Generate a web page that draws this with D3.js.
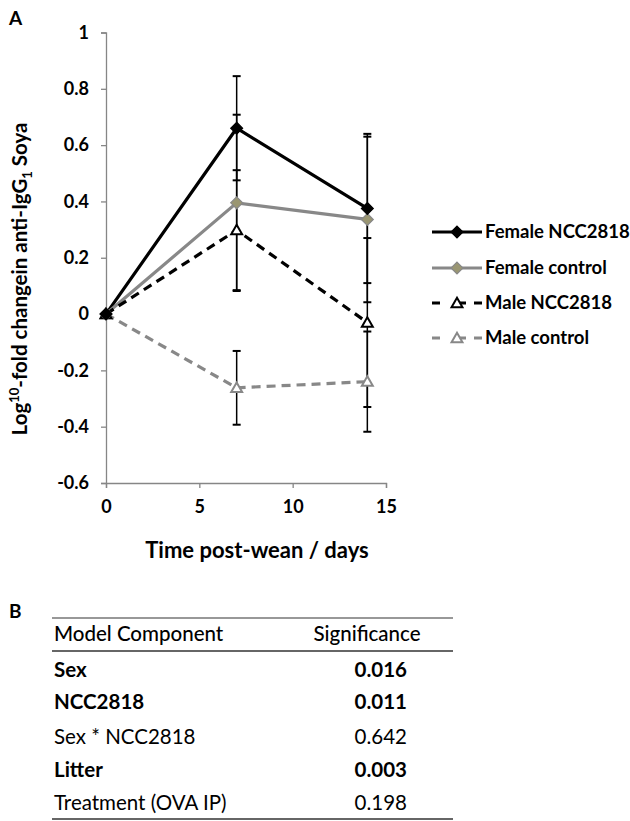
<!DOCTYPE html>
<html>
<head>
<meta charset="utf-8">
<script src="https://cdn.jsdelivr.net/npm/d3@7"></script>
<style>
  body { margin: 0; background: #fff; }
  svg { display: block; font-family: Lato, "Open Sans", sans-serif; }
</style>
</head>
<body>
<svg id="chart" width="630" height="821"></svg>
<script>
// data
const days = [0, 7, 14];
const seriesNames = ["Female NCC2818", "Female control", "Male NCC2818", "Male control"];
const femaleNcc = [0, 0.66, 0.375];
const femaleNccErr = [0, 0.185, 0.265];
const femaleCtrl = [0, 0.395, 0.336];
const femaleCtrlErr = [0, 0.313, 0.294];
const maleNcc = [0, 0.298, -0.03];
const maleNccErr = [0, 0.213, 0.30];
const maleCtrl = [0, -0.262, -0.24];
const maleCtrlErr = [0, 0.131, 0.178];
const yTicks = [-0.6, -0.4, -0.2, 0, 0.2, 0.4, 0.6, 0.8, 1];
const xTicks = [0, 5, 10, 15];

const tableComponents = ["Sex", "NCC2818", "Sex * NCC2818", "Litter", "Treatment (OVA IP)"];
const tableSignificance = ["0.016", "0.011", "0.642", "0.003", "0.198"];
const tableBold = [true, true, false, true, false];

const svg = d3.select("#chart");

// styles per series
const styles = [
  { color: "#000", dash: null, marker: "diamond", fill: "#000" },
  { color: "#888", dash: null, marker: "diamond", fill: "#9a9672" },
  { color: "#000", dash: "9,6", marker: "triangle", fill: "#fff" },
  { color: "#888", dash: "9,6", marker: "triangle", fill: "#fff" }
];
const means = [femaleNcc, femaleCtrl, maleNcc, maleCtrl];
const errs = [femaleNccErr, femaleCtrlErr, maleNccErr, maleCtrlErr];

let x = d3.scaleLinear().domain([0, 15]).range([106, 386]);
let y = d3.scaleLinear().domain([-0.6, 1]).range([483, 32.5]);

// panel labels
svg.append("text").attr("x", 9).attr("y", 25).attr("font-weight", "bold").attr("font-size", 19).text("A");
svg.append("text").attr("x", 9).attr("y", 618).attr("font-weight", "bold").attr("font-size", 19).text("B");

// axes
let yAxis = svg.append("g")
    .attr("transform", "translate(" + x(0) + ",0)")
    .call(d3.axisLeft(y).tickValues(yTicks).tickSize(5).tickPadding(12)
        .tickFormat(d => String(+d.toFixed(1))));
let xAxis = svg.append("g")
    .attr("transform", "translate(0," + y(-0.6) + ")")
    .call(d3.axisBottom(x).tickValues(xTicks).tickSize(5).tickPadding(9));

[yAxis, xAxis].forEach(function(a) {
    a.select(".domain").attr("stroke", "#868686").attr("stroke-width", 1.3);
    a.selectAll(".tick line").attr("stroke", "#868686").attr("stroke-width", 1.3);
    a.selectAll(".tick text").attr("font-family", "Lato, sans-serif").attr("font-weight", "bold")
        .attr("font-size", 18).attr("fill", "#000");
});
xAxis.selectAll(".tick text").attr("dy", "0.9em");

// axis titles
svg.append("text")
    .attr("x", 257).attr("y", 558)
    .attr("text-anchor", "middle").attr("font-weight", "bold").attr("font-size", 22)
    .text("Time post-wean / days");

let yTitle = svg.append("text")
    .attr("transform", "translate(27,279) rotate(-90)")
    .attr("text-anchor", "middle").attr("font-weight", "bold").attr("font-size", 20.5);
yTitle.append("tspan").text("Log");
yTitle.append("tspan").attr("font-size", 13).attr("dy", -8).text("10");
yTitle.append("tspan").attr("dy", 8).text("-fold changein anti-IgG");
yTitle.append("tspan").attr("font-size", 13).attr("dy", 5).text("1");
yTitle.append("tspan").attr("dy", -5).text(" Soya");

// lines
let line = d3.line().x(d => x(d[0])).y(d => y(d[1]));
means.forEach(function(m, i) {
    svg.append("path")
        .datum(days.map((d, j) => [d, m[j]]))
        .attr("d", line)
        .attr("fill", "none")
        .attr("stroke", styles[i].color)
        .attr("stroke-width", 3.2)
        .attr("stroke-dasharray", styles[i].dash);
});

// error bars
means.forEach(function(m, i) {
    days.forEach(function(d, j) {
        let e = errs[i][j];
        if (!e) return;
        let g = svg.append("g").attr("stroke", "#000").attr("stroke-width", 1.5);
        g.append("line").attr("x1", x(d)).attr("x2", x(d)).attr("y1", y(m[j] - e)).attr("y2", y(m[j] + e));
        [m[j] - e, m[j] + e].forEach(function(v) {
            g.append("line").attr("x1", x(d) - 4).attr("x2", x(d) + 4).attr("y1", y(v)).attr("y2", y(v)).attr("stroke-width", 2);
        });
    });
});

// markers
const diamond = d3.symbol().type(d3.symbolDiamond2).size(90);
const triangle = d3.symbol().type(d3.symbolTriangle2).size(85);
function drawMarker(g, st, cx, cy) {
    g.append("path")
        .attr("d", st.marker === "diamond" ? diamond() : triangle())
        .attr("transform", "translate(" + cx + "," + (st.marker === "triangle" ? cy + 1 : cy) + ")")
        .attr("fill", st.fill)
        .attr("stroke", st.color)
        .attr("stroke-width", st.marker === "triangle" ? 2 : 1.2);
}
// draw in reverse so female markers sit on top
for (let i = means.length - 1; i >= 0; i--) {
    days.forEach(function(d, j) {
        drawMarker(svg, styles[i], x(d), y(means[i][j]));
    });
}

// legend
const legendY = [232, 268, 303, 338];
seriesNames.forEach(function(name, i) {
    let g = svg.append("g");
    g.append("line").attr("x1", 432).attr("x2", 482).attr("y1", legendY[i]).attr("y2", legendY[i])
        .attr("stroke", styles[i].color).attr("stroke-width", 3.2)
        .attr("stroke-dasharray", styles[i].dash ? "8,18,8" : null);
    drawMarker(g, styles[i], 457, legendY[i]);
    g.append("text").attr("x", 485).attr("y", legendY[i]).attr("dy", "0.35em")
        .attr("font-weight", "bold").attr("font-size", 18.5).text(name);
});

// table B
const tLeft = 52, tRight = 453;
const rule = (yy, w) => svg.append("line").attr("x1", tLeft).attr("x2", tRight).attr("y1", yy).attr("y2", yy)
    .attr("stroke", "#333").attr("stroke-width", w);
rule(618, 1.2);
rule(651, 1.5);
rule(819, 1.5);
svg.append("text").attr("x", 54).attr("y", 641).attr("font-size", 20.5).attr("font-weight", 500).text("Model Component");
svg.append("text").attr("x", 367).attr("y", 641).attr("text-anchor", "middle").attr("font-size", 20.5).attr("font-weight", 500).text("Significance");
const rowY = [677, 709, 744, 777, 810];
tableComponents.forEach(function(c, i) {
    let w = tableBold[i] ? "bold" : "normal";
    svg.append("text").attr("x", 54).attr("y", rowY[i]).attr("font-size", 20.5).attr("font-weight", w).text(c);
    svg.append("text").attr("x", 407).attr("y", rowY[i]).attr("text-anchor", "end").attr("font-size", 20.5).attr("font-weight", w).text(tableSignificance[i]);
});
</script>
</body>
</html>
